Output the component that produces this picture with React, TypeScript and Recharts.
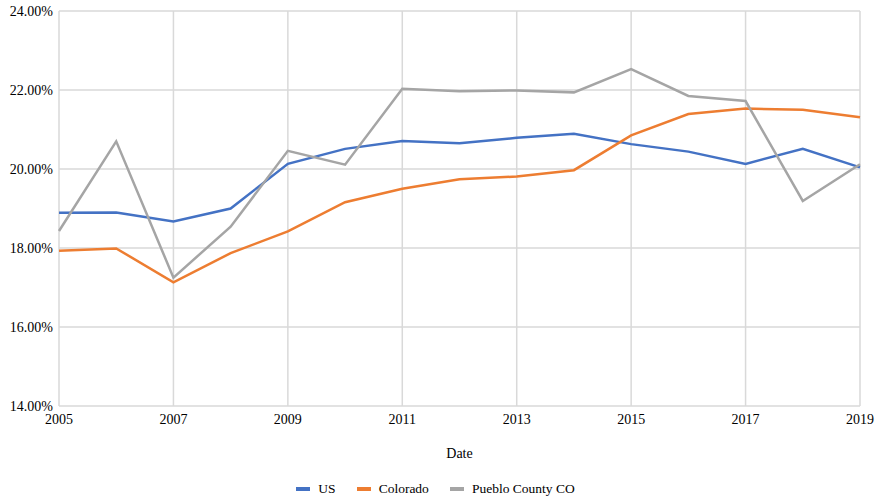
import React from 'react';
import { LineChart, Line, XAxis, YAxis, CartesianGrid, Legend } from 'recharts';

const years = [2005, 2006, 2007, 2008, 2009, 2010, 2011, 2012, 2013, 2014, 2015, 2016, 2017, 2018, 2019];
const usValues = [18.89, 18.9, 18.67, 19.0, 20.13, 20.51, 20.71, 20.65, 20.79, 20.89, 20.63, 20.44, 20.13, 20.51, 20.04];
const coloradoValues = [17.93, 17.99, 17.13, 17.87, 18.42, 19.16, 19.5, 19.74, 19.81, 19.97, 20.85, 21.39, 21.53, 21.5, 21.31];
const puebloValues = [18.43, 20.7, 17.25, 18.54, 20.46, 20.11, 22.03, 21.97, 21.99, 21.94, 22.53, 21.85, 21.72, 19.19, 20.12];
const xTicks = [2005, 2007, 2009, 2011, 2013, 2015, 2017, 2019];
const yTicks = [0.14, 0.16, 0.18, 0.2, 0.22, 0.24];

const seriesDefs = [
  { key: 'US', color: '#4472C4' },
  { key: 'Colorado', color: '#ED7D31' },
  { key: 'Pueblo County CO', color: '#A5A5A5' },
];

const data = years.map((y, i) => ({
  year: y,
  US: usValues[i] / 100,
  Colorado: coloradoValues[i] / 100,
  'Pueblo County CO': puebloValues[i] / 100,
}));

const FONT = '"Liberation Serif", "Times New Roman", serif';

const renderLegend = () => (
  <div
    style={{
      width: 877,
      height: 28,
      paddingTop: 10,
      boxSizing: 'border-box',
      display: 'flex',
      justifyContent: 'center',
      alignItems: 'center',
      fontFamily: FONT,
      fontSize: 13.5,
      color: '#000',
      transform: 'translateX(-3px)',
    }}
  >
    {seriesDefs.map((s, i) => (
      <div key={s.key} style={{ display: 'flex', alignItems: 'center', marginLeft: i === 0 ? 0 : 21, height: 18 }}>
        <span style={{ display: 'inline-block', width: 14, height: 4, background: s.color, marginRight: 8 }} />
        <span style={{ lineHeight: '18px' }}>{s.key}</span>
      </div>
    ))}
  </div>
);

export default function App() {
  return (
    <div style={{ position: 'absolute', left: 0, top: 0, width: 877, height: 498, background: '#fff' }}>
      <LineChart
        width={877}
        height={498}
        data={data}
        margin={{ top: 11, right: 17, left: 0, bottom: 0 }}
        style={{ fontFamily: FONT }}
      >
        <CartesianGrid stroke="#d9d9d9" strokeWidth={1.5} horizontalValues={yTicks} verticalValues={xTicks} />
        <XAxis
          dataKey="year"
          type="number"
          domain={[2005, 2019]}
          ticks={xTicks}
          interval={0}
          axisLine={false}
          tickLine={false}
          height={64}
          tick={{ fill: '#000', fontSize: 14, fontFamily: FONT }}
          label={{ value: 'Date', position: 'insideBottom', offset: 12, fill: '#000', fontSize: 14, fontFamily: FONT }}
        />
        <YAxis
          type="number"
          domain={[0.14, 0.24]}
          ticks={yTicks}
          interval={0}
          width={59}
          axisLine={false}
          tickLine={false}
          tickMargin={0}
          tick={{ fill: '#000', fontSize: 14, fontFamily: FONT }}
          tickFormatter={(v: number) => (v * 100).toFixed(2) + '%'}
        />
        <Legend verticalAlign="bottom" height={28} content={renderLegend} wrapperStyle={{ left: 0, bottom: 0, width: 877 }} />
        {seriesDefs.map((s) => (
          <Line
            key={s.key}
            type="linear"
            dataKey={s.key}
            stroke={s.color}
            strokeWidth={2.5}
            dot={false}
            activeDot={false}
            isAnimationActive={false}
          />
        ))}
      </LineChart>
    </div>
  );
}
